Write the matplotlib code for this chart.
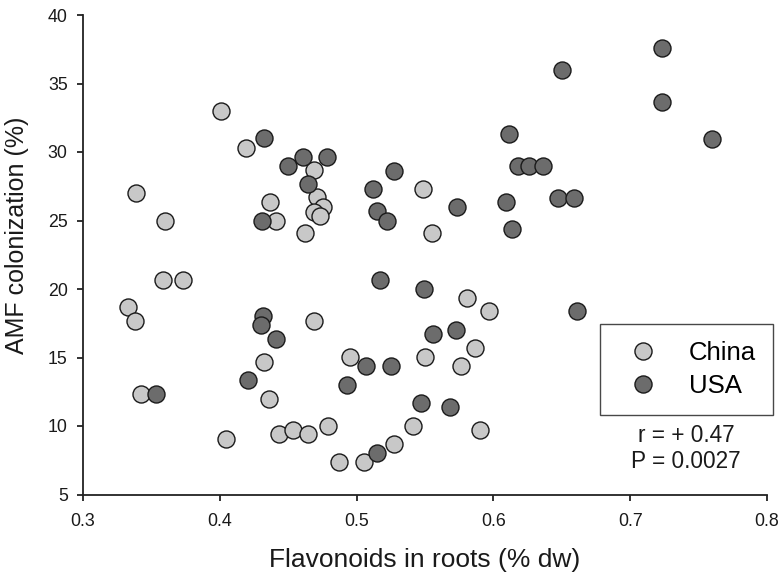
import matplotlib
matplotlib.use("Agg")
import matplotlib.pyplot as plt
from matplotlib.lines import Line2D

plt.rcParams['font.family'] = ['Liberation Sans', 'DejaVu Sans']

# China samples
china_x = [0.401, 0.419, 0.3385, 0.360, 0.4367, 0.4408, 0.462, 0.469, 0.4713, 0.4757,
           0.4689, 0.4732, 0.5488, 0.5554, 0.3331, 0.3382, 0.3587, 0.3728, 0.3424, 0.432,
           0.436, 0.4048, 0.4433, 0.4537, 0.4647, 0.469, 0.4952, 0.5805, 0.597, 0.55,
           0.5863, 0.5765, 0.4791, 0.541, 0.5902, 0.5273, 0.4874, 0.5054]
china_y = [33.0, 30.3, 27.0, 25.0, 26.34, 25.0, 24.07, 28.7, 26.7, 26.0,
           25.65, 25.3, 27.33, 24.07, 18.68, 17.7, 20.67, 20.67, 12.36, 14.69,
           12.0, 9.05, 9.41, 9.73, 9.41, 17.7, 15.03, 19.34, 18.36, 15.03,
           15.69, 14.35, 10.02, 10.02, 9.68, 8.71, 7.35, 7.35]

# USA samples
usa_x = [0.432, 0.4496, 0.4608, 0.4645, 0.4308, 0.4786, 0.5273, 0.512, 0.5146, 0.522,
         0.5734, 0.6112, 0.6092, 0.6136, 0.6182, 0.6263, 0.636, 0.723, 0.6499, 0.723,
         0.7596, 0.6474, 0.6589, 0.6608, 0.4313, 0.4301, 0.4408, 0.4204, 0.3534, 0.5173,
         0.549, 0.5556, 0.5727, 0.5068, 0.5254, 0.4932, 0.5473, 0.5683, 0.5149]
usa_y = [31.0, 29.0, 29.67, 27.7, 25.0, 29.67, 28.64, 27.33, 25.68, 25.0,
         26.0, 31.32, 26.34, 24.37, 29.0, 29.0, 29.0, 37.6, 35.97, 33.63,
         30.98, 26.65, 26.65, 18.36, 18.04, 17.34, 16.34, 13.35, 12.36, 20.67,
         19.99, 16.68, 17.02, 14.35, 14.35, 13.01, 11.68, 11.39, 8.03]

x_ticks = [0.3, 0.4, 0.5, 0.6, 0.7, 0.8]
x_ticklabels = ['0.3', '0.4', '0.5', '0.6', '0.7', '0.8']
y_ticks = [5, 10, 15, 20, 25, 30, 35, 40]
series_names = ['China', 'USA']
stats_text = ['r = + 0.47', 'P = 0.0027']

W, H = 784, 584
fig = plt.figure(figsize=(W / 100, H / 100), dpi=100)
ax = fig.add_axes([83 / W, 1 - 494.5 / H, (767 - 83) / W, (494.5 - 15) / H])

light = '#c8c8c8'
dark = '#6c6c6c'
ms = 150
ax.scatter(china_x, china_y, s=ms, c=light, edgecolors='#1a1a1a', linewidths=1.0, zorder=3)
ax.scatter(usa_x, usa_y, s=ms, c=dark, edgecolors='#1a1a1a', linewidths=1.0, zorder=3)

ax.set_xlim(0.3, 0.8)
ax.set_ylim(5, 40)
ax.set_xticks(x_ticks)
ax.set_xticklabels(x_ticklabels)
ax.set_yticks(y_ticks)
for s in ['top', 'right']:
    ax.spines[s].set_visible(False)
for s in ['left', 'bottom']:
    ax.spines[s].set_linewidth(1.3)
    ax.spines[s].set_color('#222222')
ax.tick_params(axis='both', direction='out', length=4.5, width=1.3, color='#222222',
               labelsize=12.8, labelcolor='#1a1a1a')
ax.tick_params(axis='x', pad=9)
ax.tick_params(axis='y', pad=6.5)

fig.text(425 / W, 1 - 567 / H, 'Flavonoids in roots (% dw)', ha='center', va='baseline',
         fontsize=19, color='#1a1a1a')
fig.text(17 / W, 1 - 235 / H, 'AMF colonization (%)', ha='center', va='center',
         rotation=90, fontsize=18, color='#1a1a1a')

handles = [Line2D([], [], linestyle='none', marker='o', markersize=12.3, markerfacecolor=light,
                  markeredgecolor='#1a1a1a', markeredgewidth=1.0),
           Line2D([], [], linestyle='none', marker='o', markersize=12.3, markerfacecolor=dark,
                  markeredgecolor='#1a1a1a', markeredgewidth=1.0)]
leg = ax.legend(handles, series_names, loc='upper left', bbox_to_anchor=(600 / W, 1 - 324 / H),
                bbox_transform=fig.transFigure, borderaxespad=0, fontsize=18.5,
                frameon=True, fancybox=False, edgecolor='#1a1a1a', borderpad=0.65,
                handlelength=2.05, handletextpad=0.77, labelspacing=0.36)
leg.get_frame().set_linewidth(1.0)
leg.set_zorder(5)

fig.text(686 / W, 1 - 436 / H, stats_text[0], ha='center', va='center', fontsize=16.3, color='#1a1a1a')
fig.text(686 / W, 1 - 462 / H, stats_text[1], ha='center', va='center', fontsize=16.3, color='#1a1a1a')

fig.savefig('out.png', dpi=100)
